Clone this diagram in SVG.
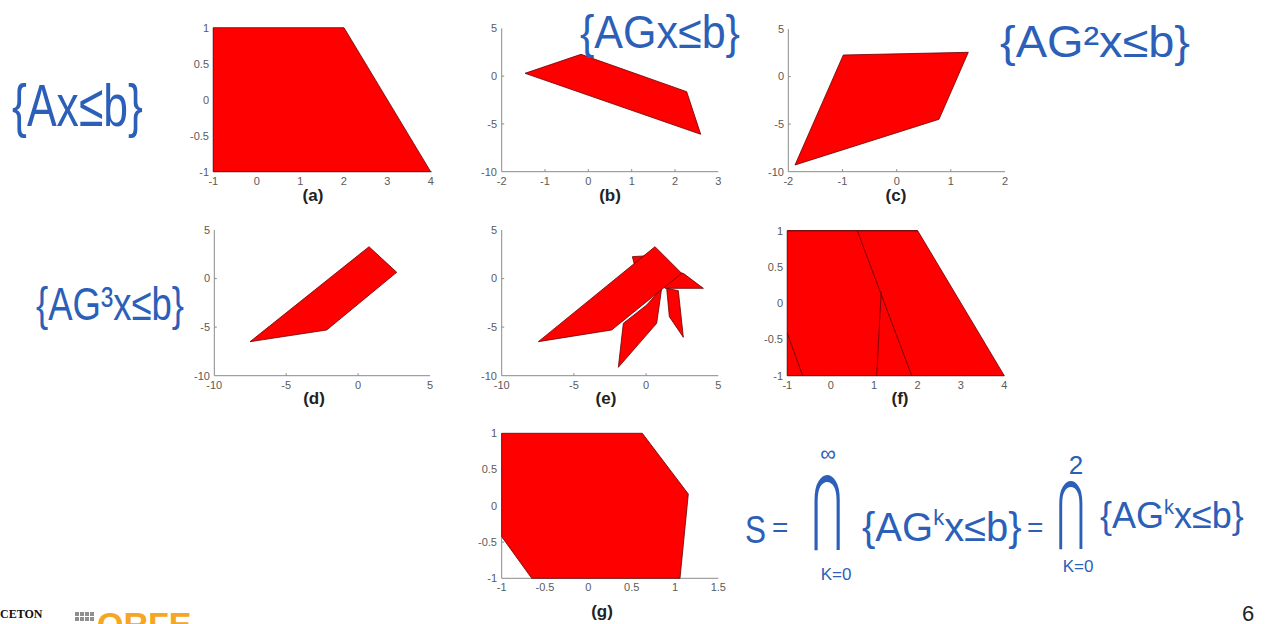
<svg xmlns="http://www.w3.org/2000/svg" width="1268" height="624" viewBox="0 0 1268 624">
<style>
.ax{stroke:#8a8a8a;stroke-width:1;fill:none}
.tk{font-family:"Liberation Sans",Arial,sans-serif;font-size:11px;fill:#5a5a5a}
.ty{text-anchor:end}
.tx{text-anchor:middle}
.cap{font-family:"Liberation Sans",Arial,sans-serif;font-size:17px;font-weight:bold;fill:#222;text-anchor:middle}
.poly{fill:#ff0000;stroke:#6a0000;stroke-width:0.8;stroke-linejoin:round}
.edge{stroke:#6a0000;stroke-width:0.9;fill:none}
.hw{font-family:"Liberation Sans",Arial,sans-serif;fill:#2c5fb8}
.big{font-family:"DejaVu Sans",sans-serif;font-weight:200;text-anchor:middle}
</style>
<rect width="1268" height="624" fill="#ffffff"/>

<g id="plot-a">
<path class="ax" d="M213.3,27.7V171.7H432 M256.8,171.7v-2.5 M300.3,171.7v-2.5 M343.7,171.7v-2.5 M387.2,171.7v-2.5 M213.3,63.7h2.5 M213.3,99.7h2.5 M213.3,135.7h2.5"/>
<polygon class="poly" points="213.3,171.7 213.3,27.7 344,27.7 430.7,171.7"/>
<g class="tk ty"><text x="209" y="31.5">1</text><text x="209" y="67.5">0.5</text><text x="209" y="103.5">0</text><text x="209" y="139.5">-0.5</text><text x="209" y="175.5">-1</text></g>
<g class="tk tx"><text x="213.3" y="184.5">-1</text><text x="256.8" y="184.5">0</text><text x="300.3" y="184.5">1</text><text x="343.7" y="184.5">2</text><text x="387.2" y="184.5">3</text><text x="430.7" y="184.5">4</text></g>
<text class="cap" x="313" y="201">(a)</text>
</g>

<g id="plot-b">
<path class="ax" d="M501.7,28.3V171.7H718.3 M545,171.7v-2.5 M588.3,171.7v-2.5 M631.7,171.7v-2.5 M675,171.7v-2.5 M501.7,76.1h2.5 M501.7,123.9h2.5"/>
<polygon class="poly" points="525,73.3 581,54.3 686.7,91.7 700.7,134.3"/>
<g class="tk ty"><text x="497" y="32.1">5</text><text x="497" y="79.9">0</text><text x="497" y="127.7">-5</text><text x="497" y="175.5">-10</text></g>
<g class="tk tx"><text x="501.7" y="184.5">-2</text><text x="545" y="184.5">-1</text><text x="588.3" y="184.5">0</text><text x="631.7" y="184.5">1</text><text x="675" y="184.5">2</text><text x="718.3" y="184.5">3</text></g>
<text class="cap" x="610" y="201">(b)</text>
</g>

<g id="plot-c">
<path class="ax" d="M788.3,29V171.7H1005 M842.5,171.7v-2.5 M896.7,171.7v-2.5 M950.8,171.7v-2.5 M788.3,76.6h2.5 M788.3,124.1h2.5"/>
<polygon class="poly" points="795,165 843.3,55 968.3,52.3 939,119.3"/>
<g class="tk ty"><text x="784" y="32.8">5</text><text x="784" y="80.4">0</text><text x="784" y="127.9">-5</text><text x="784" y="175.5">-10</text></g>
<g class="tk tx"><text x="788.3" y="184.5">-2</text><text x="842.5" y="184.5">-1</text><text x="896.7" y="184.5">0</text><text x="950.8" y="184.5">1</text><text x="1005" y="184.5">2</text></g>
<text class="cap" x="896" y="201">(c)</text>
</g>

<g id="plot-d">
<path class="ax" d="M214.3,230V375.7H430 M286.2,375.7v-2.5 M358.1,375.7v-2.5 M214.3,278.6h2.5 M214.3,327.1h2.5"/>
<polygon class="poly" points="250,341.7 326.7,330 396.7,272.3 369,246.7"/>
<g class="tk ty"><text x="210" y="233.8">5</text><text x="210" y="282.4">0</text><text x="210" y="330.9">-5</text><text x="210" y="379.5">-10</text></g>
<g class="tk tx"><text x="214.3" y="388.5">-10</text><text x="286.2" y="388.5">-5</text><text x="358.1" y="388.5">0</text><text x="430" y="388.5">5</text></g>
<text class="cap" x="314" y="404">(d)</text>
</g>

<g id="plot-e">
<path class="ax" d="M501.7,230V375.7H718.3 M573.9,375.7v-2.5 M646.1,375.7v-2.5 M501.7,278.6h2.5 M501.7,327.1h2.5"/>
<g transform="translate(470,220) scale(0.33333)">
<polygon class="poly" vector-effect="non-scaling-stroke" points="575,205 560,310 445,442 460,310 530,255"/>
<polygon class="poly" vector-effect="non-scaling-stroke" points="590,205 625,212 640,352 598,290"/>
<polygon class="poly" vector-effect="non-scaling-stroke" points="560,150 640,160 700,205 585,205"/>
<polygon class="poly" vector-effect="non-scaling-stroke" points="487,110 520,108 540,100 495,140"/>
<polygon class="poly" vector-effect="non-scaling-stroke" points="205,365 425,330 635,160 555,80"/>
</g>
<g class="tk ty"><text x="497" y="233.8">5</text><text x="497" y="282.4">0</text><text x="497" y="330.9">-5</text><text x="497" y="379.5">-10</text></g>
<g class="tk tx"><text x="501.7" y="388.5">-10</text><text x="573.9" y="388.5">-5</text><text x="646.1" y="388.5">0</text><text x="718.3" y="388.5">5</text></g>
<text class="cap" x="606" y="404">(e)</text>
</g>

<g id="plot-f">
<path class="ax" d="M787.3,230.7V375.7H1004.3 M830.7,375.7v-2.5 M874.1,375.7v-2.5 M917.5,375.7v-2.5 M960.9,375.7v-2.5 M787.3,267h2.5 M787.3,303.2h2.5 M787.3,339.5h2.5"/>
<polygon class="poly" points="787.3,375.7 787.3,230.7 917.7,230.7 1004.3,375.7"/>
<path class="edge" d="M857.3,230.7L911.7,375.7 M881.2,291.7L876.7,375.7 M787.3,333.3L802.7,375.7 M787.3,230.7H917.7"/>
<g class="tk ty"><text x="783" y="234.5">1</text><text x="783" y="270.8">0.5</text><text x="783" y="307">0</text><text x="783" y="343.3">-0.5</text><text x="783" y="379.5">-1</text></g>
<g class="tk tx"><text x="787.3" y="388.5">-1</text><text x="830.7" y="388.5">0</text><text x="874.1" y="388.5">1</text><text x="917.5" y="388.5">2</text><text x="960.9" y="388.5">3</text><text x="1004.3" y="388.5">4</text></g>
<text class="cap" x="900" y="404">(f)</text>
</g>

<g id="plot-g">
<path class="ax" d="M501.7,433.3V578.3H718.3 M545,578.3v-2.5 M588.3,578.3v-2.5 M631.7,578.3v-2.5 M675,578.3v-2.5 M501.7,469.6h2.5 M501.7,505.8h2.5 M501.7,542.1h2.5"/>
<polygon class="poly" points="501.7,433.3 642.3,433.3 688.3,494 680,578.3 531.7,578.3 501.7,536.7"/>
<g class="tk ty"><text x="497" y="437.1">1</text><text x="497" y="473.4">0.5</text><text x="497" y="509.6">0</text><text x="497" y="545.9">-0.5</text><text x="497" y="582.1">-1</text></g>
<g class="tk tx"><text x="501.7" y="591">-1</text><text x="545" y="591">-0.5</text><text x="588.3" y="591">0</text><text x="631.7" y="591">0.5</text><text x="675" y="591">1</text><text x="718.3" y="591">1.5</text></g>
<text class="cap" x="602" y="617">(g)</text>
</g>

<g id="annotations" class="hw">
<text x="12" y="126" font-size="60" textLength="131" lengthAdjust="spacingAndGlyphs">{Ax≤b}</text>
<text x="580" y="48" font-size="46" textLength="160" lengthAdjust="spacingAndGlyphs">{AGx≤b}</text>
<text x="1000" y="57" font-size="44" textLength="190" lengthAdjust="spacingAndGlyphs">{AG²x≤b}</text>
<text x="36" y="320" font-size="46" textLength="148" lengthAdjust="spacingAndGlyphs">{AG³x≤b}</text>
</g>

<g id="formula" class="hw">
<text x="745" y="543" font-size="38" textLength="21" lengthAdjust="spacingAndGlyphs">S</text>
<text x="772" y="537" font-size="28">=</text>
<text class="big" transform="translate(827,534) scale(0.45,1)" font-size="82">⋂</text>
<text x="828" y="461" font-size="22" text-anchor="middle">∞</text>
<text x="836" y="580" font-size="17" text-anchor="middle">K=0</text>
<text x="862" y="541" font-size="40">{AG<tspan font-size="22" dy="-16">k</tspan><tspan dy="16">x≤b}</tspan></text>
<text x="1027" y="537" font-size="28">=</text>
<text class="big" transform="translate(1071,535) scale(0.45,1)" font-size="75">⋂</text>
<text x="1076" y="474" font-size="26" text-anchor="middle">2</text>
<text x="1078" y="572" font-size="17" text-anchor="middle">K=0</text>
<text x="1100" y="528" font-size="36">{AG<tspan font-size="20" dy="-14">k</tspan><tspan dy="14">x≤b}</tspan></text>
</g>

<g id="footer">
<text x="0" y="618" font-family="Liberation Serif,serif" font-size="12" font-weight="bold" fill="#111">CETON</text>
<g fill="#8f8f8f">
<rect x="75" y="612" width="4" height="4"/><rect x="80" y="612" width="4" height="4"/><rect x="85" y="612" width="4" height="4"/><rect x="90" y="612" width="4" height="4"/>
<rect x="75" y="617" width="4" height="4"/><rect x="80" y="617" width="4" height="4"/><rect x="85" y="617" width="4" height="4"/><rect x="90" y="617" width="4" height="4"/>
</g>
<text x="97" y="636" font-family="Liberation Sans,sans-serif" font-size="34" font-weight="bold" fill="#f5a623">ORFE</text>
<text x="1248" y="621" font-family="Liberation Sans,sans-serif" font-size="22" fill="#222" text-anchor="middle">6</text>
</g>
</svg>
